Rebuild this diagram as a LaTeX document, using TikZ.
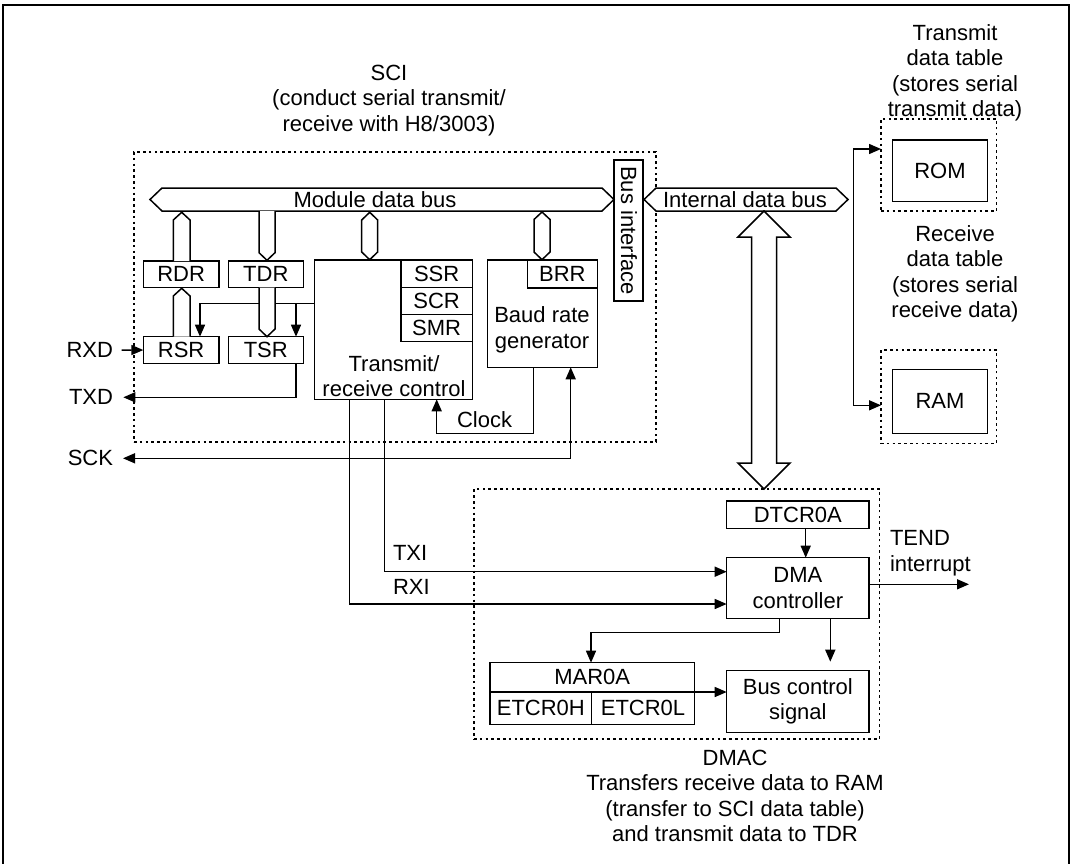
\documentclass[tikz,border=0pt]{standalone}
\usepackage{fontspec}
\setmainfont{Liberation Sans}
\usetikzlibrary{arrows.meta,calc}
\begin{document}
\begin{tikzpicture}[x=1pt,y=-1pt,
  font=\fontsize{22}{25.5}\selectfont,
  every node/.style={inner sep=0pt, outer sep=0pt},
  box/.style={draw, line width=1.5pt, fill=white, align=center, anchor=north west},
  ln/.style={line width=1.5pt},
  arr/.style={line width=1.5pt, -{Triangle[length=12pt,width=10pt]}},
  dotbox/.style={draw, line width=1.4pt, dash pattern=on 2.6pt off 3.2pt, anchor=north west},
  busshape/.style={draw, line width=1.5pt, fill=white, line join=miter},
  lbl/.style={align=center},
]
\useasboundingbox (0,0) rectangle (1073,864);
% outer frame
\draw[line width=2.8pt] (3,890) -- (3,5) -- (1069,5) -- (1069,890);

% dotted group boxes
\node[dotbox, minimum width=522, minimum height=290] (sci) at (134,152) {};
\node[dotbox, minimum width=405.5, minimum height=250] (dmac) at (474,489) {};
\node[dotbox, minimum width=115.7, minimum height=92] (romd) at (881,119) {};
\node[dotbox, minimum width=115.7, minimum height=93.3] (ramd) at (881,350) {};

% labels
\node[lbl] (scilbl) at (389,100.5) {SCI\\(conduct serial transmit/\\receive with H8/3003)};
\node[lbl] (txtbl) at (955,73) {Transmit\\data table\\(stores serial\\transmit data)};
\node[lbl] (rxtbl) at (955,274) {Receive\\data table\\(stores serial\\receive data)};
\node[lbl] (dmaclbl) at (735,796) {DMAC\\Transfers receive data to RAM\\(transfer to SCI data table)\\and transmit data to TDR};
\node[anchor=east] (rxd) at (113,350) {RXD};
\node[anchor=east] (txd) at (113,397.3) {TXD};
\node[anchor=east] (sck) at (113,458.3) {SCK};
\node[anchor=west] (clk) at (457,420) {Clock};
\node[anchor=west] (txi) at (393,553) {TXI};
\node[anchor=west] (rxi) at (393,587) {RXI};
\node[anchor=west, align=left] (tend) at (890,553) {TEND\\interrupt};

% boxes (SCI)
\node[box, minimum width=75.7, minimum height=26.7] (rdr) at (143.3,261) {RDR};
\node[box, minimum width=75, minimum height=26.7] (tdr) at (228.3,261) {TDR};
\node[box, minimum width=75.7, minimum height=26.7] (rsr) at (143.3,336.7) {RSR};
\node[box, minimum width=75, minimum height=26.7] (tsr) at (228.3,336.7) {TSR};
\node[box, minimum width=158, minimum height=139.3] (trc) at (314.3,260) {};
\node[box, minimum width=71.3, minimum height=27.7] (ssr) at (401,260) {SSR};
\node[box, minimum width=71.3, minimum height=26.6] (scr) at (401,287.7) {SCR};
\node[box, minimum width=71.3, minimum height=27.4] (smr) at (401,314.3) {SMR};
\node[lbl] (trctxt) at (394,376) {Transmit/\\receive control};
\node[box, minimum width=109.6, minimum height=107.3] (brg) at (487.7,260) {};
\node[box, minimum width=70, minimum height=28] (brr) at (527.3,260) {BRR};
\node[lbl] (brgtxt) at (542,330) {Baud rate\\generator};
\node[box, minimum width=29, minimum height=141] (busif) at (614,160) {};
\node[rotate=-90] (busiftxt) at (629,230.5) {Bus interface};

% boxes (DMAC)
\node[box, minimum width=142.3, minimum height=27.3] (dtcr) at (726.7,501) {DTCR0A};
\node[box, minimum width=142.3, minimum height=61] (dma) at (726.7,557.7) {DMA\\controller};
\node[box, minimum width=142.3, minimum height=62] (bcs) at (726.7,670.3) {Bus control\\signal};
\node[box, minimum width=204.3, minimum height=29.3] (mar) at (490,662.7) {MAR0A};
\node[box, minimum width=101.7, minimum height=32.3] (etch) at (490,692) {ETCR0H};
\node[box, minimum width=102.6, minimum height=32.3] (etcl) at (591.7,692) {ETCR0L};

% memories
\node[box, minimum width=94.6, minimum height=61.7] (rom) at (892.7,140) {ROM};
\node[box, minimum width=94.6, minimum height=64] (ram) at (892.7,369.3) {RAM};

% buses
\draw[busshape] (150,199.5) -- (162,188) -- (602,188) -- (614,199.5) -- (602,211) -- (162,211) -- cycle;
\node (mbus) at (375,199.5) {Module data bus};
\draw[busshape] (644,199.5) -- (656,188) -- (836,188) -- (848,199.5) -- (836,211) -- (656,211) -- cycle;
\node (ibus) at (745,199.5) {Internal data bus};
\coordinate (ibusb) at (764,211);
\coordinate (dmact) at (764,489);
\draw[busshape] (ibusb) -- ++(26,26) -- ++(-13.5,0) -- (776.5,463) -- ++(13.5,0) -- (dmact) -- ++(-26,-26) -- ++(13.5,0) -- (751.5,237) -- ++(-13.5,0) -- cycle;

% control line to RSR / TSR
\coordinate (ctl) at ($(trc.north west)+(0,43.3)$);
\coordinate (tsrin) at ($(tsr.north east)+(-7.3,0)$);
\draw[arr] (ctl) -| ($(rsr.north west)+(56.7,0)$);
\draw[arr] (ctl -| tsrin) -- (tsrin);

% small bus connectors
\draw[busshape] (173.3,261) -- (173.3,220) -- (181.7,212.3) -- (190,220) -- (190,261);
\draw[busshape] (259,211) -- (259,252.7) -- (267,260.3) -- (275,252.7) -- (275,211);
\draw[busshape] (361.7,220) -- (369.7,212.3) -- (377.7,220) -- (377.7,252) -- (369.7,259.7) -- (361.7,252) -- cycle;
\draw[busshape] (534,219.5) -- (542,212) -- (550,219.5) -- (550,252) -- (542,259.7) -- (534,252) -- cycle;
\draw[busshape] (173.3,336.7) -- (173.3,296) -- (181.7,288.3) -- (190,296) -- (190,336.7);
\draw[busshape] (259,287.7) -- (259,329) -- (267,336.7) -- (275,329) -- (275,287.7);

% signal connectors
\draw[arr] ($(rxd.east)+(8.7,0)$) -- (rsr.west);
\draw[arr] ($(tsr.south east)+(-7.3,0)$) |- ($(txd.east)+(10.3,0)$);
\draw[line width=1.5pt, {Triangle[length=12pt,width=10pt]}-{Triangle[length=12pt,width=10pt]}] ($(sck.east)+(10,0)$) -| ($(brg.south west)+(83,0)$);
\draw[arr] ($(brg.south west)+(45.6,0)$) -- ++(0,66) -| ($(trc.south west)+(122.4,0)$);
\draw[arr] ($(trc.south west)+(70,0)$) |- ($(dma.north west)+(0,14)$);
\draw[arr] ($(trc.south west)+(35,0)$) |- ($(dma.north west)+(0,46.3)$);
\draw[arr] ($(dtcr.south west)+(79,0)$) -- ($(dma.north west)+(79,0)$);
\draw[arr] ($(dma.north east)+(0,26.6)$) -- ++(100,0);
\draw[arr] ($(dma.south west)+(52.6,0)$) -- ++(0,14) -| ($(mar.north west)+(101,0)$);
\draw[arr] ($(dma.south west)+(103.6,0)$) -- ++(0,43);
\draw[arr] (mar.south east) -- (bcs.west |- mar.south east);

% memory table arrows
\coordinate (vt) at ($(romd.north west)+(-27.7,30)$);
\coordinate (vb) at ($(ramd.north west)+(-27.7,55.3)$);
\draw[arr] (vb) -- (vt) -- (vt -| romd.west);
\draw[arr] (vb) -- (vb -| ramd.west);
\end{tikzpicture}
\end{document}
